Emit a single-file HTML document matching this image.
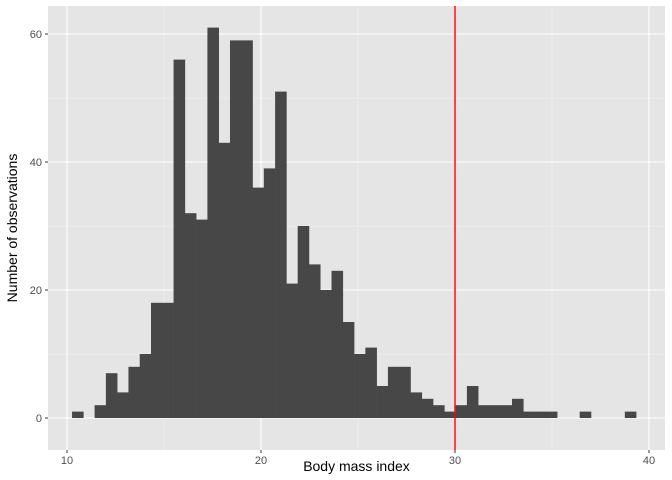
<!DOCTYPE html>
<html><head><meta charset="utf-8"><style>body{margin:0;background:#fff}svg{display:block;font-family:"Liberation Sans",sans-serif}</style></head>
<body>
<svg id="chart" width="672" height="480"></svg>
<script>
const binStart = 10.26;
const binWidth = 0.5815;
const counts = [1,0,2,7,4,8,10,18,18,56,32,31,61,43,59,59,36,39,51,21,30,24,20,23,15,10,11,5,8,8,4,3,2,1,2,5,2,2,2,3,1,1,1,0,0,1,0,0,0,1];
const xTicks = [10,20,30,40];
const yTicks = [0,20,40,60];
const refLine = 30;
const NS = "http://www.w3.org/2000/svg";
const svg = document.getElementById("chart");
const P = {l:48, r:665, t:6, b:450};
const xs = v => 67 + (v-10)*19.4;
const ys = v => 418 - v*6.4;
function mk(tag, attrs, parent){const e=document.createElementNS(NS,tag);for(const k in attrs)e.setAttribute(k,attrs[k]);(parent||svg).appendChild(e);return e;}
const panel = mk("rect",{x:P.l,y:P.t,width:P.r-P.l,height:P.b-P.t,fill:"#e5e5e5"});


for(let i=0;i<xTicks.length-1;i++){const v=(xTicks[i]+xTicks[i+1])/2;const l=mk("line",{x1:xs(v),x2:xs(v),y1:P.t,y2:P.b,stroke:"#f2f2f2","stroke-width":0.6});}
for(let i=0;i<yTicks.length-1;i++){const v=(yTicks[i]+yTicks[i+1])/2;const l=mk("line",{x1:P.l,x2:P.r,y1:ys(v),y2:ys(v),stroke:"#f2f2f2","stroke-width":0.6});}
xTicks.forEach(v=>{const l=mk("line",{x1:xs(v),x2:xs(v),y1:P.t,y2:P.b,stroke:"#fff","stroke-width":1.1});
 const t=mk("line",{x1:xs(v),x2:xs(v),y1:P.b,y2:P.b+3,stroke:"#333"});
 const tx=mk("text",{x:xs(v),y:P.b+14,"text-anchor":"middle","font-size":11,fill:"#4d4d4d"});tx.textContent=v;});
yTicks.forEach(v=>{const l=mk("line",{x1:P.l,x2:P.r,y1:ys(v),y2:ys(v),stroke:"#fff","stroke-width":1.1});
 const t=mk("line",{x1:P.l-3,x2:P.l,y1:ys(v),y2:ys(v),stroke:"#333"});
 const tx=mk("text",{x:P.l-6,y:ys(v)+4,"text-anchor":"end","font-size":11,fill:"#4d4d4d"});tx.textContent=v;});
counts.forEach((c,i)=>{if(c<=0)return;const x0=xs(binStart+i*binWidth),x1=xs(binStart+(i+1)*binWidth);
 const r=mk("rect",{x:x0,y:ys(c),width:x1-x0+0.3,height:ys(0)-ys(c),fill:"#474747"});});
const rl=mk("line",{x1:xs(refLine),x2:xs(refLine),y1:P.t,y2:P.b,stroke:"#ff0000","stroke-width":1.4});


const xt=mk("text",{x:(P.l+P.r)/2,y:471,"text-anchor":"middle","font-size":14,fill:"#000"});xt.textContent="Body mass index";


const yt=mk("text",{x:0,y:0,"text-anchor":"middle","font-size":14,fill:"#000",transform:`translate(17,${(P.t+P.b)/2}) rotate(-90)`});yt.textContent="Number of observations";


</script>
</body></html>
